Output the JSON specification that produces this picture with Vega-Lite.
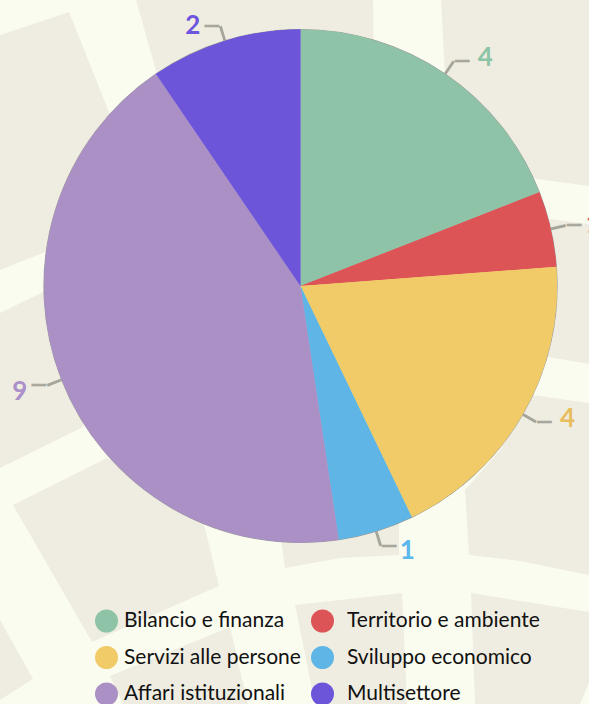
{"$schema":"https://vega.github.io/schema/vega-lite/v6.json","width":578,"height":572,"padding":{"left":11.5,"top":0,"right":0,"bottom":132},"autosize":"none","background":"#fbfcf0","view":{"stroke":null},
"data":{"values":[{"cat":"Bilancio e finanza","n":4,"order":1},{"cat":"Territorio e ambiente","n":1,"order":2},{"cat":"Servizi alle persone","n":4,"order":3},{"cat":"Sviluppo economico","n":1,"order":4},{"cat":"Affari istituzionali","n":9,"order":5},{"cat":"Multisettore","n":2,"order":6}]},
"transform":[{"window":[{"op":"sum","field":"n","as":"cum"}],"sort":[{"field":"order"}]},{"calculate":"datum.cum-datum.n/2","as":"mid"},{"calculate":"datum.mid-0.018","as":"t0"},{"calculate":"datum.mid+0.018","as":"t1"}],
"resolve":{"scale":{"fill":"independent"},"legend":{"fill":"independent"}},
"layer":[
{"data":{"values":[
{"type":"Feature","properties":{"name":"a"},"geometry":{"type":"Polygon","coordinates":[[[0,35],[69,12],[140,190],[50,250],[0,270],[0,35]]]}},
{"type":"Feature","properties":{"name":"b"},"geometry":{"type":"Polygon","coordinates":[[[136,0],[373,0],[374,60],[300,150],[160,85],[136,0]]]}},
{"type":"Feature","properties":{"name":"c"},"geometry":{"type":"Polygon","coordinates":[[[441,0],[589,0],[589,186],[537,179],[500,160],[445,75],[441,0]]]}},
{"type":"Feature","properties":{"name":"d"},"geometry":{"type":"Polygon","coordinates":[[[550,219],[589,224],[589,364],[548,357],[500,300],[550,219]]]}},
{"type":"Feature","properties":{"name":"e"},"geometry":{"type":"Polygon","coordinates":[[[533,395],[589,403],[589,575],[520,561],[469,555],[465,490],[500,450],[533,395]]]}},
{"type":"Feature","properties":{"name":"f"},"geometry":{"type":"Polygon","coordinates":[[[280,530],[399,520],[399,555],[340,558],[285,568],[280,530]]]}},
{"type":"Feature","properties":{"name":"g"},"geometry":{"type":"Polygon","coordinates":[[[13,505],[107,458],[203,520],[219,586],[92,642],[13,505]]]}},
{"type":"Feature","properties":{"name":"h"},"geometry":{"type":"Polygon","coordinates":[[[0,313],[45,291],[90,400],[83,427],[0,468],[0,313]]]}},
{"type":"Feature","properties":{"name":"i"},"geometry":{"type":"Polygon","coordinates":[[[0,620],[33,679],[0,700],[0,620]]]}},
{"type":"Feature","properties":{"name":"j"},"geometry":{"type":"Polygon","coordinates":[[[110,676],[230,627],[248,704],[123,704],[110,676]]]}},
{"type":"Feature","properties":{"name":"k"},"geometry":{"type":"Polygon","coordinates":[[[295,605],[402,593],[407,704],[315,704],[295,605]]]}},
{"type":"Feature","properties":{"name":"l"},"geometry":{"type":"Polygon","coordinates":[[[471,593],[589,612],[589,683],[580,704],[475,704],[471,593]]]}}
]},"mark":{"type":"geoshape","fill":"#efede1","stroke":null,"clip":false},"projection":{"type":"identity","scale":1,"translate":[-11.5,0]},"encoding":{}},
{"mark":{"type":"arc","outerRadius":256.5,"innerRadius":256.5,"fill":"#999","stroke":"#999","strokeWidth":1.2},"encoding":{"theta":{"field":"n","type":"quantitative","stack":true,"scale":{"domain":[0,21]}},"order":{"field":"order"}}},
{"mark":{"type":"arc","outerRadius":272,"innerRadius":256,"fill":"#a5a59b"},"encoding":{"theta":{"field":"t0","type":"quantitative","scale":{"domain":[0,21]}},"theta2":{"field":"t1"}}},
{"mark":{"type":"arc","outerRadius":256.5},
"encoding":{"theta":{"field":"n","type":"quantitative","stack":true,"scale":{"domain":[0,21]}},"order":{"field":"order"},
"fill":{"field":"cat","type":"nominal","scale":{"domain":["Territorio e ambiente","Sviluppo economico","Multisettore","Bilancio e finanza","Servizi alle persone","Affari istituzionali"],"range":["#dd5457","#5fb6e6","#6d55da","#8fc3a8","#f0cb68","#ab90c6"]},"legend":{"values":["Territorio e ambiente","Sviluppo economico","Multisettore"],"orient":"none","legendX":299.5,"legendY":609.5,"title":null,"symbolType":"circle","symbolSize":529,"symbolOpacity":1,"labelFont":"Lato","labelFontSize":21,"labelColor":"#111","labelLimit":400,"symbolStrokeWidth":0,"rowPadding":13.5,"labelOffset":13,"padding":0}}}},
{"mark":{"type":"arc","outerRadius":256.5},
"encoding":{"theta":{"field":"n","type":"quantitative","stack":true,"scale":{"domain":[0,21]}},"order":{"field":"order"},
"fill":{"field":"cat","type":"nominal","scale":{"domain":["Bilancio e finanza","Servizi alle persone","Affari istituzionali","Territorio e ambiente","Sviluppo economico","Multisettore"],"range":["#8fc3a8","#f0cb68","#ab90c6","#dd5457","#5fb6e6","#6d55da"]},"legend":{"values":["Bilancio e finanza","Servizi alle persone","Affari istituzionali"],"orient":"none","legendX":83.5,"legendY":609.5,"title":null,"symbolType":"circle","symbolSize":529,"symbolOpacity":1,"labelFont":"Lato","labelFontSize":21,"labelColor":"#111","labelLimit":400,"symbolStrokeWidth":0,"rowPadding":13.5,"labelOffset":6,"padding":0}}}},
{"transform":[{"filter":"datum.order<=4"}],"mark":{"type":"text","radius":272,"text":"—","font":"Lato","fontWeight":"bold","fontSize":21,"color":"#a5a59b","stroke":"#a5a59b","strokeWidth":0.6,"align":"left","baseline":"middle","dx":0},"encoding":{"theta":{"field":"mid","type":"quantitative","scale":{"domain":[0,21]}}}},
{"transform":[{"filter":"datum.order>=5"}],"mark":{"type":"text","radius":272,"text":"—","font":"Lato","fontWeight":"bold","fontSize":21,"color":"#a5a59b","stroke":"#a5a59b","strokeWidth":0.6,"align":"right","baseline":"middle","dx":0},"encoding":{"theta":{"field":"mid","type":"quantitative","scale":{"domain":[0,21]}}}},
{"transform":[{"filter":"datum.order==1||datum.order==3"}],"mark":{"type":"text","radius":272,"font":"Lato","fontWeight":"bold","fontSize":26,"strokeWidth":0.5,"align":"left","baseline":"middle","dx":24,"dy":-3},"encoding":{"theta":{"field":"mid","type":"quantitative","scale":{"domain":[0,21]}},"text":{"field":"n","type":"quantitative"},"color":{"field":"cat","type":"nominal","legend":null,"scale":{"domain":["Bilancio e finanza","Territorio e ambiente","Servizi alle persone","Sviluppo economico","Affari istituzionali","Multisettore"],"range":["#8cc4a6","#dd4a50","#e8bd5c","#5cb8ec","#ab90c9","#6d55dd"]}}}},
{"transform":[{"filter":"datum.order==2"}],"mark":{"type":"text","radius":272,"font":"Lato","fontWeight":"bold","fontSize":26,"align":"left","baseline":"middle","dx":20,"dy":0},"encoding":{"theta":{"field":"mid","type":"quantitative","scale":{"domain":[0,21]}},"text":{"field":"n","type":"quantitative"},"color":{"field":"cat","type":"nominal","legend":null,"scale":{"domain":["Bilancio e finanza","Territorio e ambiente","Servizi alle persone","Sviluppo economico","Affari istituzionali","Multisettore"],"range":["#8cc4a6","#dd4a50","#e8bd5c","#5cb8ec","#ab90c9","#6d55dd"]}}}},
{"transform":[{"filter":"datum.order==4"}],"mark":{"type":"text","radius":272,"font":"Lato","fontWeight":"bold","fontSize":26,"align":"left","baseline":"middle","dx":19,"dy":5},"encoding":{"theta":{"field":"mid","type":"quantitative","scale":{"domain":[0,21]}},"text":{"field":"n","type":"quantitative"},"color":{"field":"cat","type":"nominal","legend":null,"scale":{"domain":["Bilancio e finanza","Territorio e ambiente","Servizi alle persone","Sviluppo economico","Affari istituzionali","Multisettore"],"range":["#8cc4a6","#dd4a50","#e8bd5c","#5cb8ec","#ab90c9","#6d55dd"]}}}},
{"transform":[{"filter":"datum.order==5"}],"mark":{"type":"text","radius":272,"font":"Lato","fontWeight":"bold","fontSize":26,"align":"right","baseline":"middle","dx":-20,"dy":7},"encoding":{"theta":{"field":"mid","type":"quantitative","scale":{"domain":[0,21]}},"text":{"field":"n","type":"quantitative"},"color":{"field":"cat","type":"nominal","legend":null,"scale":{"domain":["Bilancio e finanza","Territorio e ambiente","Servizi alle persone","Sviluppo economico","Affari istituzionali","Multisettore"],"range":["#8cc4a6","#dd4a50","#e8bd5c","#5cb8ec","#ab90c9","#6d55dd"]}}}},
{"transform":[{"filter":"datum.order==6"}],"mark":{"type":"text","radius":272,"font":"Lato","fontWeight":"bold","fontSize":26,"align":"right","baseline":"middle","dx":-20,"dy":0},"encoding":{"theta":{"field":"mid","type":"quantitative","scale":{"domain":[0,21]}},"text":{"field":"n","type":"quantitative"},"color":{"field":"cat","type":"nominal","legend":null,"scale":{"domain":["Bilancio e finanza","Territorio e ambiente","Servizi alle persone","Sviluppo economico","Affari istituzionali","Multisettore"],"range":["#8cc4a6","#dd4a50","#e8bd5c","#5cb8ec","#ab90c9","#6d55dd"]}}}}
],
"config":{"font":"Lato"}}
